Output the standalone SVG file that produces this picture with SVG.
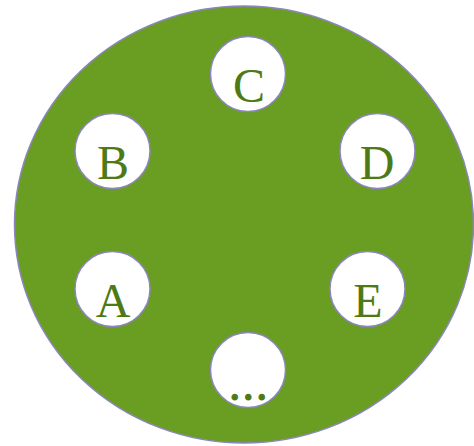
<svg xmlns="http://www.w3.org/2000/svg" width="474" height="446" viewBox="0 0 474 446">
<style>
.outer{fill:#6a9e23;stroke:#8c86c0;stroke-width:1.5}
.node{fill:#ffffff;stroke:#8c86c0;stroke-width:1.5}
.lbl{font-family:"Liberation Serif","Times New Roman",serif;font-size:48px;fill:#4e7a16;text-anchor:middle}
</style>
<rect width="474" height="446" fill="#ffffff"/>
<g id="ring"><ellipse class="outer" cx="244" cy="224.5" rx="229.5" ry="218.5"/></g>
<g id="connectors"></g>
<g id="node-C"><circle class="node" cx="248" cy="74" r="37.5"/><text class="lbl" x="249" y="101.5">C</text></g>
<g id="node-B"><circle class="node" cx="112.5" cy="151" r="37.5"/><text class="lbl" x="113" y="178.5">B</text></g>
<g id="node-D"><circle class="node" cx="377.5" cy="151" r="37.5"/><text class="lbl" x="377" y="178.5">D</text></g>
<g id="node-A"><circle class="node" cx="112.5" cy="289" r="37.5"/><text class="lbl" x="113" y="316.5">A</text></g>
<g id="node-E"><circle class="node" cx="367.5" cy="289" r="37.5"/><text class="lbl" x="368" y="316.5">E</text></g>
<g id="node-more"><circle class="node" cx="248" cy="370" r="37.5"/><text class="lbl" x="249" y="400" style="letter-spacing:1.5px;stroke:#4e7a16;stroke-width:0.8">...</text></g>
</svg>
